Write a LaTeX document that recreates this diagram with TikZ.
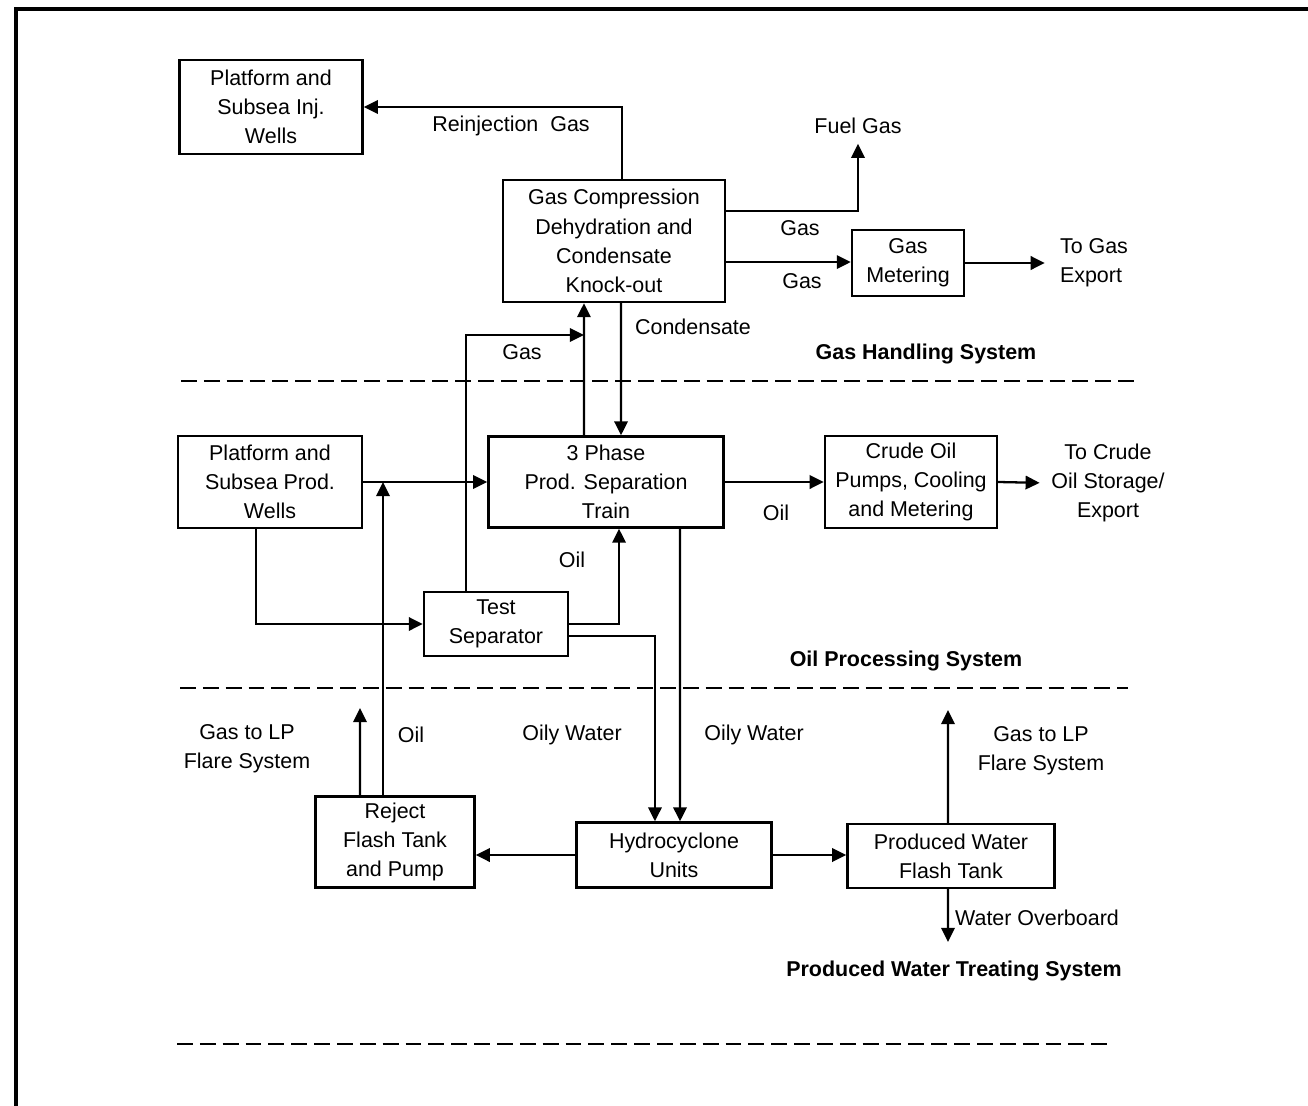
\documentclass[tikz,border=0pt]{standalone}
\usepackage{fontspec}
\setmainfont{Liberation Sans}
\usetikzlibrary{arrows.meta}

\begin{document}
\begin{tikzpicture}[x=0.01cm,y=-0.01cm,line width=0.65pt,
		>={Triangle[length=4pt,width=3.8pt]},
		box/.style={draw, align=center, inner sep=0pt, font=\fontsize{6.1}{8.3}\selectfont},
		lbl/.style={align=center, inner sep=1pt, font=\fontsize{6.1}{8.3}\selectfont},
		sys/.style={inner sep=1pt, font=\fontsize{6.1}{8.3}\selectfont\bfseries},
		border/.style={dash pattern=on 4.5pt off 2pt, line width=0.85pt}]
			\useasboundingbox (0,0) rectangle (1308,1106);
			\draw[line width=1pt] (16,1106) -- (16,9) -- (1308,9);
			% boxes
			\node	(inj) at (271,107) [box, minimum width=1.83cm, minimum height=0.94cm] {Platform and\\Subsea Inj.\\Wells};
			\node	(comp) at (614,241) [box, minimum width=2.22cm, minimum height=1.22cm] {Gas Compression\\Dehydration and\\Condensate\\Knock-out};
			\node	(meter) at (908,263) [box, minimum width=1.12cm, minimum height=0.66cm] {Gas\\Metering};
			\node	(prod) at (270,482) [box, minimum width=1.84cm, minimum height=0.92cm] {Platform and\\Subsea Prod.\\Wells};
			\node	(sep) at (606,482) [box, minimum width=2.35cm, minimum height=0.91cm] {3 Phase\\Prod. Separation\\Train};
			\node	(crude) at (911,482) [box, minimum width=1.72cm, minimum height=0.92cm] {Crude Oil\\Pumps, Cooling\\and Metering};
			\node	(test) at (496,624) [box, minimum width=1.44cm, minimum height=0.64cm] {Test\\Separator};
			\node	(reject) at (395,842) [box, minimum width=1.59cm, minimum height=0.91cm] {Reject\\Flash Tank\\and Pump};
			\node	(hydro) at (674,855) [box, minimum width=1.95cm, minimum height=0.65cm] {Hydrocyclone\\Units};
			\node	(pwft) at (951,856) [box, minimum width=2.07cm, minimum height=0.64cm] {Produced Water\\Flash Tank};
			% stream labels
			\node	(reinj) at (511,126) [lbl] {Reinjection\ \ Gas};
			\node	(fuel) at (858,126) [lbl] {Fuel Gas};
			\node	(gasA) at (800,228) [lbl] {Gas};
			\node	(gasB) at (802,281) [lbl] {Gas};
			\node	(togas) at (1094,263) [lbl, align=left] {To Gas\\Export};
			\node	(cond) at (693,327) [lbl] {Condensate};
			\node	(gasC) at (522,352) [lbl] {Gas};
			\node	(oilA) at (776,513) [lbl] {Oil};
			\node	(tocrude) at (1108,483) [lbl] {To Crude\\Oil Storage/\\Export};
			\node	(oilB) at (572,560) [lbl] {Oil};
			\node	(lpA) at (247,749) [lbl] {Gas to LP\\Flare System};
			\node	(oilC) at (411,735) [lbl] {Oil};
			\node	(owA) at (572,735) [lbl] {Oily Water};
			\node	(owB) at (754,735) [lbl] {Oily Water};
			\node	(lpB) at (1041,751) [lbl] {Gas to LP\\Flare System};
			\node	(overb) at (1037,918) [lbl] {Water Overboard};
			% systems
			\node	(gsys) at (926,354) [sys] {Gas Handling System};
			\node	(osys) at (906,661) [sys] {Oil Processing System};
			\node	(wsys) at (954,971) [sys] {Produced Water Treating System};
			\draw[border] (181,381) -- (1141,381);
			\draw[border] (180,688) -- (1128,688);
			\draw[border] (177,1044) -- (1113,1044);
			% free ends
			\coordinate (gasjoin) at (584,335);
			\coordinate (flareA) at (360,708);
			\coordinate (flareB) at (948,710);
			\coordinate (sea) at (948,942);
			% streams
			\draw[->] ([xshift=0.08cm]comp.north) |- (inj.east);
			\draw[->] ([yshift=0.3cm]comp.east) -| ([yshift=-1.5pt]fuel.south);
			\draw[->] ([yshift=-0.21cm]comp.east) -- ([yshift=-0.21cm]comp.east -| meter.west);
			\draw[->] ([xshift=-0.3cm]test.north) |- (gasjoin);
			\draw[->] ([xshift=-0.14cm]prod.south) |- (test.west);
			\draw[->] ([xshift=-0.12cm]reject.north) -- ([xshift=-0.12cm]reject.north |- prod.east);
			\draw[->] (test.east) -| ([xshift=0.13cm]sep.south);
			\draw[->] ([yshift=-0.12cm]test.east) -| ([xshift=-0.19cm]hydro.north);
			\draw[->] (hydro.west) -- (hydro.west -| reject.east);
			\draw[->] (hydro.east) -- (hydro.east -| pwft.west);
			\draw 
			(meter.east) edge[->, shorten >=3pt] (togas.west)
			([xshift=-0.22cm]sep.north) edge[->] ([xshift=-0.3cm]comp.south)
			([xshift=0.07cm]comp.south) edge[->] ([xshift=0.15cm]sep.north)
			(prod.east) edge[->] (sep.west)
			(sep.east) edge[->] (crude.west)
			(crude.east) edge[->, shorten >=2pt] (tocrude.west)
			([xshift=0.74cm]sep.south) edge[->] ([xshift=0.06cm]hydro.north)
			([xshift=-0.35cm]reject.north) edge[->] (flareA)
			([xshift=-0.03cm]pwft.north) edge[->] (flareB)
			([xshift=-0.03cm]pwft.south) edge[->] (sea)
			;
		\end{tikzpicture}
\end{document}
